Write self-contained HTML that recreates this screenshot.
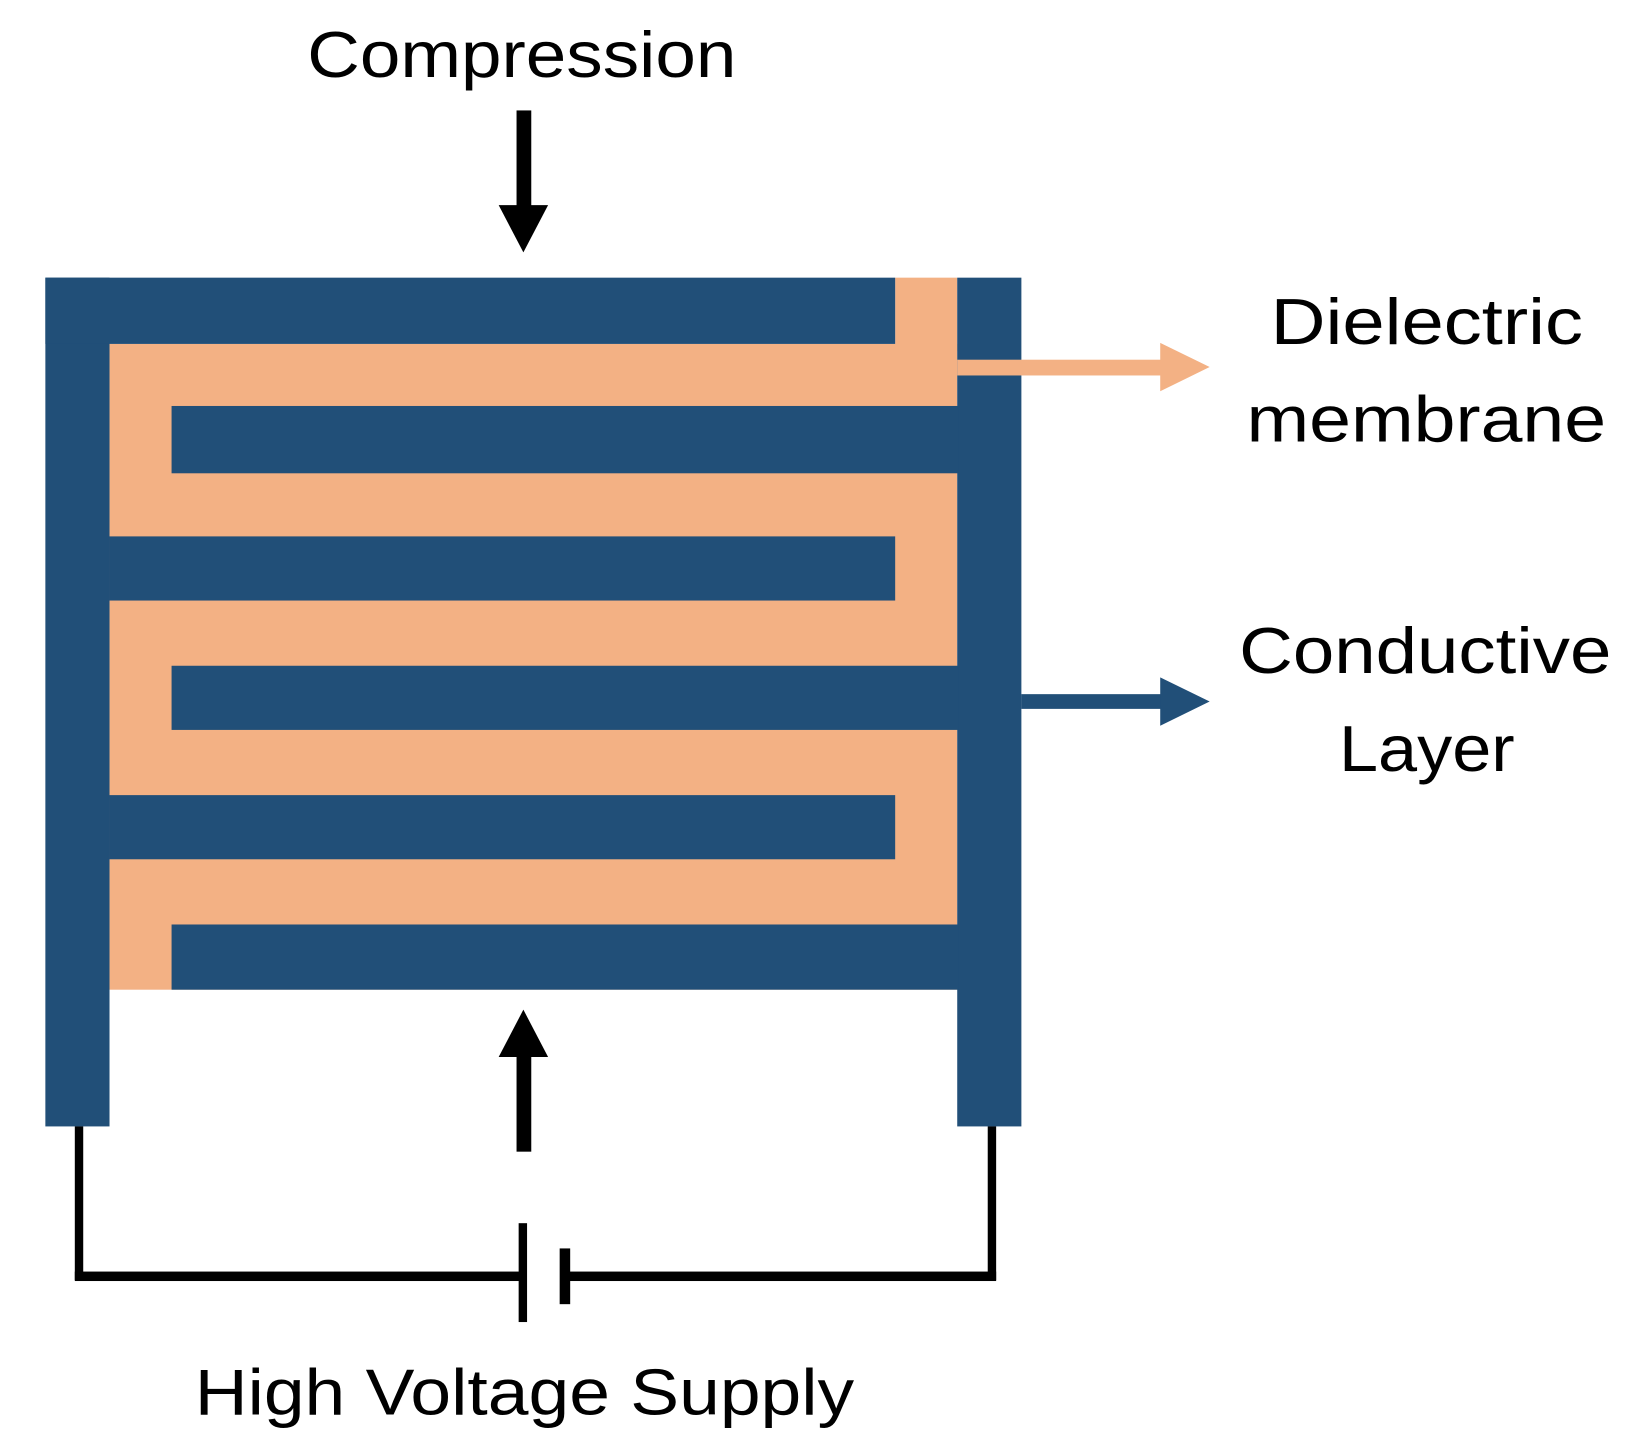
<!DOCTYPE html>
<html><head><meta charset="utf-8"><style>html,body{margin:0;padding:0;background:#fff}svg{display:block}</style></head>
<body>
<svg width="1641" height="1443" viewBox="0 0 1560 1372" xmlns="http://www.w3.org/2000/svg">
<rect width="1560" height="1372" fill="#fff"/>
<!-- dielectric -->
<rect x="104" y="327" width="806" height="614" fill="#F3B184"/>
<rect x="851" y="264" width="59" height="70" fill="#F3B184"/>
<g fill="#214F78">
<rect x="43" y="264" width="61" height="807"/>
<rect x="910" y="264" width="61" height="807"/>
<rect x="43" y="264" width="808" height="63"/>
<rect x="104" y="510" width="747" height="61"/>
<rect x="104" y="756" width="747" height="61"/>
<rect x="163" y="386" width="748" height="64"/>
<rect x="163" y="633" width="748" height="61"/>
<rect x="163" y="879" width="748" height="62"/>
</g>
<!-- label arrows -->
<rect x="910" y="342" width="195" height="15" fill="#F3B184"/>
<polygon points="1103,326 1150,349 1103,372" fill="#F3B184"/>
<rect x="971" y="660" width="134" height="14" fill="#214F78"/>
<polygon points="1103,644 1150,667 1103,690" fill="#214F78"/>
<!-- compression arrows -->
<rect x="491" y="105" width="14" height="92" fill="#000"/>
<polygon points="474,195 521,195 497.5,240" fill="#000"/>
<rect x="491" y="1003" width="14" height="92" fill="#000"/>
<polygon points="474,1005 521,1005 497.5,960" fill="#000"/>
<!-- circuit -->
<g fill="#000">
<rect x="71" y="1071" width="8" height="146"/>
<rect x="939" y="1071" width="8" height="146"/>
<rect x="71" y="1209" width="425" height="9"/>
<rect x="538" y="1209" width="409" height="9"/>
<rect x="493" y="1163" width="8" height="94"/>
<rect x="532" y="1187" width="10" height="53"/>
</g>
<g font-family="Liberation Sans, sans-serif" font-size="62" fill="#000">
<text x="292" y="73" textLength="408" lengthAdjust="spacingAndGlyphs">Compression</text>
<text x="1208" y="327" textLength="297" lengthAdjust="spacingAndGlyphs">Dielectric</text>
<text x="1185" y="420" textLength="342" lengthAdjust="spacingAndGlyphs">membrane</text>
<text x="1178" y="640" textLength="354" lengthAdjust="spacingAndGlyphs">Conductive</text>
<text x="1273" y="733" textLength="167" lengthAdjust="spacingAndGlyphs">Layer</text>
<text x="185" y="1345" textLength="627" lengthAdjust="spacingAndGlyphs">High Voltage Supply</text>
</g>
</svg>
</body></html>
